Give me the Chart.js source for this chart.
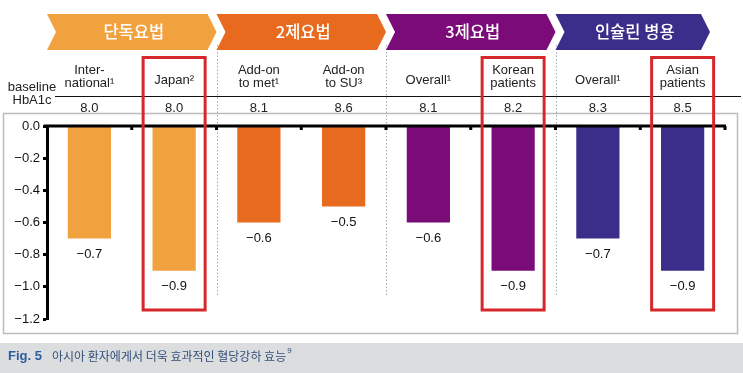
<!DOCTYPE html>
<html>
<head>
<meta charset="utf-8">
<script src="https://cdn.jsdelivr.net/npm/chart.js@4.4.1/dist/chart.umd.min.js"></script>
<style>
  html, body { margin: 0; padding: 0; background: #ffffff; }
  #wrap { position: relative; width: 743px; height: 373px; }
  canvas { display: block; }
</style>
</head>
<body>
<div id="wrap"><canvas id="c" width="743" height="373"></canvas></div>
<script>
// ---- data ----
const categories = [
  ["Inter-", "national¹"],
  ["Japan²"],
  ["Add-on", "to met¹"],
  ["Add-on", "to SU³"],
  ["Overall¹"],
  ["Korean", "patients"],
  ["Overall¹"],
  ["Asian", "patients"]
];
const hba1cChange = [-0.7, -0.9, -0.6, -0.5, -0.6, -0.9, -0.7, -0.9];
const baselineHbA1c = ["8.0", "8.0", "8.1", "8.6", "8.1", "8.2", "8.3", "8.5"];
const groupNames = ["단독요법", "2제요법", "3제요법", "인슐린 병용"];
const groupOfCategory = [0, 0, 1, 1, 2, 2, 3, 3];
const highlighted = [1, 5, 7];
const yTicks = [0, -0.2, -0.4, -0.6, -0.8, -1.0, -1.2];
const captionLabel = "Fig. 5";
const captionText = "아시아 환자에게서 더욱 효과적인 혈당강하 효능";

// ---- styles ----
const groupColors = ["#F2A13F", "#E86A1E", "#7A0B78", "#3B2E8A"];
const FONT = "'Liberation Sans', Arial, sans-serif";
const KFONT = "'Noto Sans CJK KR', 'Noto Sans', sans-serif";

function fmt(v) {
  const s = Math.abs(v).toFixed(1);
  return (v < 0 ? "\u2212" : "") + s;
}

const decor = {
  id: "decor",
  beforeDraw(chart) {
    const ctx = chart.ctx;
    const W = chart.width, H = chart.height;
    ctx.save();
    ctx.fillStyle = "#ffffff";
    ctx.fillRect(0, 0, W, H);
    // caption band
    ctx.fillStyle = "#DCDDDF";
    ctx.fillRect(0, 343, W, H - 343);
    ctx.textBaseline = "middle";
    ctx.textAlign = "left";
    ctx.font = "bold 13px " + FONT;
    ctx.fillStyle = "#2B5C9E";
    ctx.fillText(captionLabel, 8, 356);
    const lw = ctx.measureText(captionLabel).width;
    ctx.font = "12px " + KFONT;
    ctx.fillStyle = "#33507A";
    ctx.fillText(captionText, 8 + lw + 10, 356);
    const tw = ctx.measureText(captionText).width;
    ctx.font = "8px " + FONT;
    ctx.fillText("9", 8 + lw + 10 + tw + 1, 351);
    // frame
    ctx.strokeStyle = "#BDBDBD";
    ctx.lineWidth = 1.5;
    ctx.strokeRect(3.5, 113.5, 734, 220);
    ctx.restore();
  },
  afterDatasetsDraw(chart) {
    const ctx = chart.ctx;
    const xs = chart.scales.x, ys = chart.scales.y;
    const area = chart.chartArea;
    const step = xs.getPixelForValue(1) - xs.getPixelForValue(0);
    const y0 = ys.getPixelForValue(0);
    ctx.save();

    // dotted group separators
    ctx.strokeStyle = "#9FAABB";
    ctx.lineWidth = 1;
    ctx.setLineDash([1.5, 2]);
    for (let i = 1; i < categories.length; i++) {
      if (groupOfCategory[i] !== groupOfCategory[i - 1]) {
        const bx = Math.round(xs.getPixelForValue(i) - step / 2) + 0.5;
        ctx.beginPath();
        ctx.moveTo(bx, 45);
        ctx.lineTo(bx, 296);
        ctx.stroke();
      }
    }
    ctx.setLineDash([]);

    // chevrons
    for (let g = 0; g < groupNames.length; g++) {
      const idx = groupOfCategory.map((v, i) => v === g ? i : -1).filter(i => i >= 0);
      const left = xs.getPixelForValue(idx[0]) - step / 2 + 0;
      let right = xs.getPixelForValue(idx[idx.length - 1]) + step / 2;
      if (g === groupNames.length - 1) right -= 15;
      const top = 14, bot = 50, mid = (top + bot) / 2, d = 9;
      ctx.fillStyle = groupColors[g];
      ctx.beginPath();
      ctx.moveTo(left, top);
      ctx.lineTo(right - d, top);
      ctx.lineTo(right, mid);
      ctx.lineTo(right - d, bot);
      ctx.lineTo(left, bot);
      ctx.lineTo(left + d, mid);
      ctx.closePath();
      ctx.fill();
      ctx.fillStyle = "#ffffff";
      ctx.font = "500 16.5px " + KFONT;
      ctx.textAlign = "center";
      ctx.textBaseline = "middle";
      ctx.fillText(groupNames[g], (left + right) / 2 + 2, mid);
    }

    // header row
    ctx.fillStyle = "#222222";
    ctx.textAlign = "center";
    ctx.textBaseline = "middle";
    ctx.font = "13px " + FONT;
    ctx.fillText("baseline", 32, 87);
    ctx.fillText("HbA1c", 32, 100);
    ctx.strokeStyle = "#111111";
    ctx.lineWidth = 1;
    ctx.beginPath();
    ctx.moveTo(55, 96.5);
    ctx.lineTo(741, 96.5);
    ctx.stroke();
    for (let i = 0; i < categories.length; i++) {
      const cx = xs.getPixelForValue(i);
      const lines = categories[i];
      ctx.font = "13px " + FONT;
      if (lines.length === 2) {
        ctx.fillText(lines[0], cx, 70);
        ctx.fillText(lines[1], cx, 83);
      } else {
        ctx.fillText(lines[0], cx, 80);
      }
      ctx.font = "13px " + FONT;
      ctx.fillText(baselineHbA1c[i], cx, 108);
    }

    // x axis line
    ctx.strokeStyle = "#000000";
    ctx.lineWidth = 3;
    ctx.beginPath();
    ctx.moveTo(area.left - 3, y0);
    ctx.lineTo(area.right + 1, y0);
    ctx.stroke();
    // small tick marks at category boundaries
    ctx.fillStyle = "#000000";
    for (let i = 1; i <= categories.length; i++) {
      const bx = xs.getPixelForValue(i) - step / 2;
      ctx.fillRect(bx - 1.5, y0, 3, 4);
    }

    // value labels
    ctx.fillStyle = "#111111";
    ctx.font = "13px " + FONT;
    ctx.textAlign = "center";
    ctx.textBaseline = "middle";
    const meta = chart.getDatasetMeta(0);
    meta.data.forEach((bar, i) => {
      ctx.fillText(fmt(hba1cChange[i]), bar.x, bar.y + 16);
    });

    // red highlight boxes
    ctx.strokeStyle = "#D6282B";
    ctx.lineWidth = 3;
    highlighted.forEach(i => {
      const cx = xs.getPixelForValue(i);
      ctx.strokeRect(cx - 31, 57.5, 62, 252.5);
    });
    ctx.restore();
  }
};

new Chart(document.getElementById("c"), {
  type: "bar",
  data: {
    labels: categories,
    datasets: [{
      data: hba1cChange,
      backgroundColor: groupOfCategory.map(g => groupColors[g]),
      borderWidth: 0,
      barPercentage: 0.51,
      categoryPercentage: 1.0
    }]
  },
  options: {
    responsive: false,
    animation: false,
    devicePixelRatio: 1,
    layout: { padding: { left: 0, right: 18, top: 126, bottom: 54 } },
    plugins: { legend: { display: false }, tooltip: { enabled: false } },
    scales: {
      x: { display: false },
      y: {
        min: -1.2,
        max: 0,
        afterBuildTicks(scale) { scale.ticks = yTicks.map(v => ({ value: v })); },
        afterFit(scale) { scale.width = 47; },
        grid: { drawOnChartArea: false, drawTicks: true, tickLength: 4, color: "#000000", tickWidth: 3 },
        border: { display: true, color: "#000000", width: 3 },
        ticks: {
          color: "#111111",
          font: { family: FONT, size: 13 },
          padding: 3,
          callback: v => fmt(v)
        }
      }
    }
  },
  plugins: [decor]
});
</script>
</body>
</html>
